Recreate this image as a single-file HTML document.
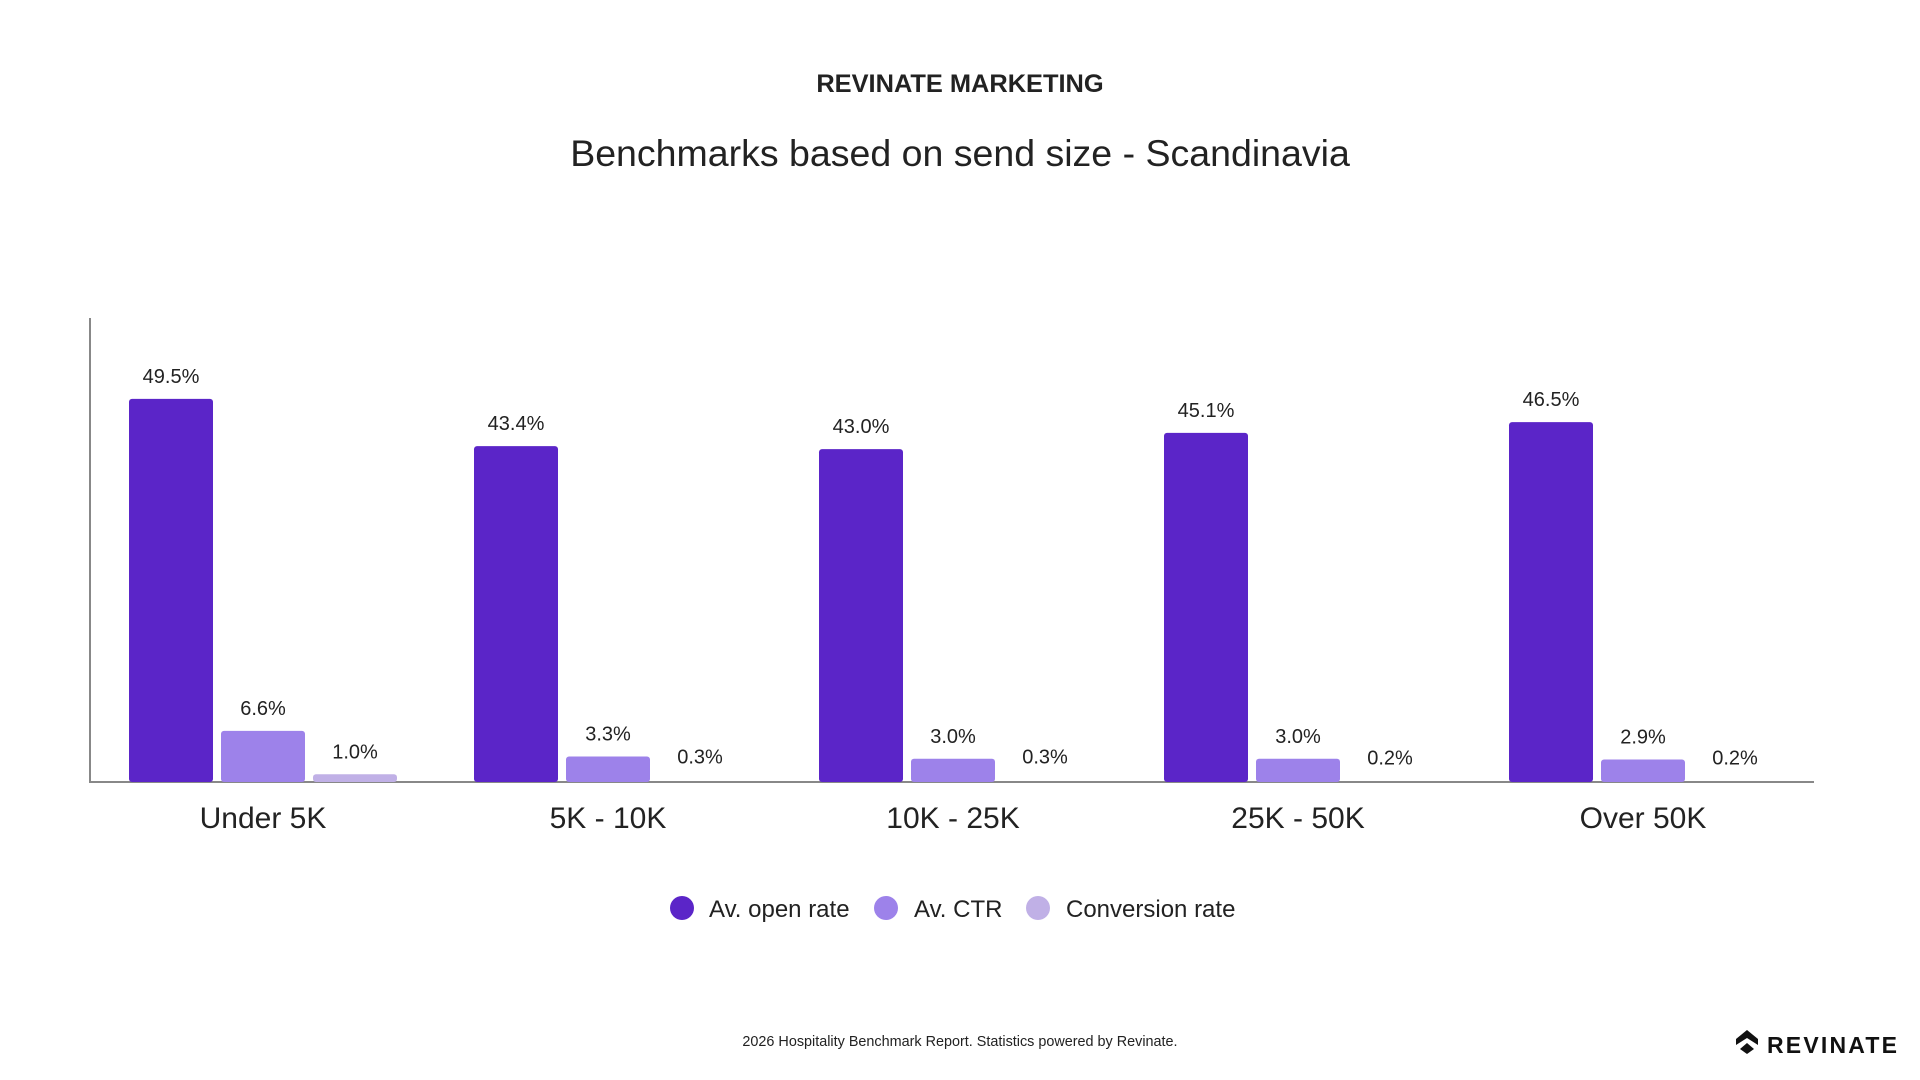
<!DOCTYPE html>
<html><head><meta charset="utf-8"><style>
body{margin:0;width:1920px;height:1080px;background:#fff;font-family:"Liberation Sans",sans-serif;color:#222;position:relative;overflow:hidden}
</style></head><body>
<svg width="1920" height="1080" style="position:absolute;left:0;top:0" font-family="Liberation Sans, sans-serif">
<text x="960" y="92" text-anchor="middle" font-size="25.4" font-weight="bold" fill="#222">REVINATE MARKETING</text>
<text x="960" y="166" text-anchor="middle" font-size="37.5" fill="#222">Benchmarks based on send size - Scandinavia</text>
<line x1="90" y1="318" x2="90" y2="782" stroke="#888" stroke-width="2"/>
<line x1="89" y1="782" x2="1814" y2="782" stroke="#888" stroke-width="2"/>
<g id="bars"></g>
<g font-size="24" fill="#222">
<circle cx="682" cy="908" r="12" fill="#5b25c8"/><text x="709" y="917">Av. open rate</text>
<circle cx="886" cy="908" r="12" fill="#9d82ea"/><text x="914" y="917">Av. CTR</text>
<circle cx="1038" cy="908" r="12" fill="#c0b0e6"/><text x="1066" y="917">Conversion rate</text>
</g>
<text x="960" y="1046" text-anchor="middle" font-size="14.4" fill="#222">2026 Hospitality Benchmark Report. Statistics powered by Revinate.</text>
<g transform="translate(1736,1030)">
<path d="M11 0 L22 9 L22 15 L11 8 L0 15 L0 9 Z" fill="#111"/>
<path d="M11 13 L18 19 L11 24 L4 19 Z" fill="#111"/>
</g>
<text x="1767" y="1053" font-size="23" font-weight="bold" letter-spacing="2.2" fill="#111">REVINATE</text>
</svg>
<script>
var d=[["Under 5K",49.5,6.6,1.0],["5K - 10K",43.4,3.3,0.3],["10K - 25K",43.0,3.0,0.3],["25K - 50K",45.1,3.0,0.2],["Over 50K",46.5,2.9,0.2]];
var c=["#5b25c8","#9d82ea","#c0b0e6"],s="",k=7.74;
d.forEach(function(r,i){var g=129+i*345;
for(var j=0;j<3;j++){var x=g+j*92,v=r[j+1],h=v*k,y=782-h;
if(v>=0.5)s+='<rect x="'+x+'" y="'+y+'" width="84" height="'+h+'" rx="3" fill="'+c[j]+'"/>';
s+='<text x="'+(x+42)+'" y="'+(y-16)+'" text-anchor="middle" font-size="20" fill="#222">'+v.toFixed(1)+'%</text>';}
s+='<text x="'+(g+134)+'" y="828" text-anchor="middle" font-size="30" fill="#222">'+r[0]+'</text>';});
document.getElementById("bars").innerHTML=s;
</script>
</body></html>
